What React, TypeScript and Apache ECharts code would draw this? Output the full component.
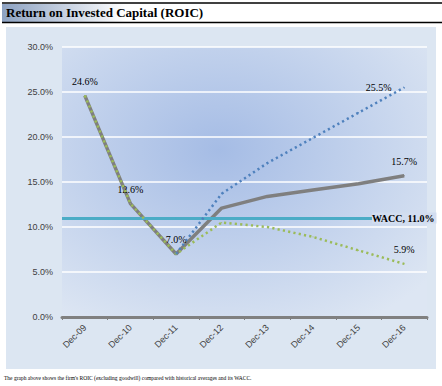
import React, { useEffect, useRef } from "react";
import * as echarts from "echarts";

const categories = ["Dec-09", "Dec-10", "Dec-11", "Dec-12", "Dec-13", "Dec-14", "Dec-15", "Dec-16"];
const roic = [24.6, 12.6, 7.0, 12.1, 13.4, 14.1, 14.8, 15.7];
const lowCase = [24.6, 12.6, 7.0, 10.5, 10.0, 8.9, 7.4, 5.9];
const highCase = [null, null, 7.0, 13.7, 17.1, 19.9, 22.7, 25.5];
const wacc = [11.0, 11.0, 11.0, 11.0, 11.0, 11.0, 11.0, 11.0];
const yTicks = [0, 5, 10, 15, 20, 25, 30];
const roicLabelIdx = [0, 1, 2, 7];
const lowLabelIdx = [7];
const highLabelIdx = [7];
const waccLabelIdx = [7];

const title = "Return on Invested Capital (ROIC)";
const footer = "The graph above shows the firm's ROIC (excluding goodwill) compared with historical averages and its WACC.";

const SERIF = "'Liberation Serif', 'Times New Roman', serif";
const SANS = "'Liberation Sans', Arial, sans-serif";

function withLabels(values: (number | null)[], idx: number[], label: any) {
  return values.map((v, i) =>
    idx.includes(i) && v !== null ? { value: v, label: { show: true, ...label } } : v
  );
}

export default function App() {
  const ref = useRef<HTMLDivElement>(null);
  useEffect(() => {
    document.body.style.margin = "0";
    const chart = echarts.init(ref.current!, null, { renderer: "svg" });
    const labelStyle = {
      fontFamily: SERIF,
      fontSize: 10,
      color: "#000",
      opacity: 1,
      formatter: (p: any) => Number(p.value).toFixed(1) + "%",
    };
    const sym = (color: string) => ({
      symbol: "circle",
      symbolSize: 1,
      showSymbol: true,
      showAllSymbol: true,
      itemStyle: { color },
      labelLayout: { hideOverlap: false },
    });
    chart.setOption({
      animation: false,
      backgroundColor: "#fff",
      graphic: [
        {
          type: "rect",
          z: -100,
          shape: { x: 2, y: 4, width: 440, height: 18 },
          style: {
            fill: new echarts.graphic.LinearGradient(0, 0, 1, 0, [
              { offset: 0, color: "#8DA2C2" },
              { offset: 0.28, color: "#ffffff" },
              { offset: 1, color: "#ffffff" },
            ]),
          },
        },
        { type: "line", shape: { x1: 2, y1: 3, x2: 442, y2: 3 }, style: { stroke: "#000", lineWidth: 1.5 } },
        { type: "line", shape: { x1: 2, y1: 22.5, x2: 442, y2: 22.5 }, style: { stroke: "#000", lineWidth: 1.5 } },
        {
          type: "text",
          x: 6,
          y: 6,
          style: { text: title, font: `bold 13px ${SERIF}`, fill: "#000" },
        },
        {
          type: "rect",
          z: -100,
          shape: { x: 6, y: 27, width: 430, height: 342 },
          style: { fill: "#DCE6F2" },
        },
        {
          type: "text",
          x: 4,
          y: 375,
          style: { text: footer, font: `5.5px ${SERIF}`, fill: "#000" },
        },
      ],
      grid: {
        left: 62,
        right: 15,
        top: 47,
        bottom: 69,
        show: true,
        borderWidth: 0,
        backgroundColor: new echarts.graphic.RadialGradient(0.43, 0.38, 0.75, [
          { offset: 0, color: "#A5BCE5" },
          { offset: 1, color: "#DDE6F3" },
        ]),
      },
      xAxis: {
        type: "category",
        data: categories,
        boundaryGap: true,
        axisLine: { lineStyle: { color: "#808080", width: 3 } },
        axisTick: { show: true, length: 3, lineStyle: { color: "#808080", width: 1 } },
        axisLabel: {
          rotate: 45,
          fontFamily: SANS,
          fontSize: 9,
          color: "#404040",
          margin: 9,
        },
        splitLine: { show: false },
      },
      yAxis: {
        type: "value",
        min: 0,
        max: 30,
        interval: 5,
        axisLine: { show: false },
        axisTick: { show: false },
        axisLabel: {
          fontFamily: SANS,
          fontSize: 9,
          color: "#404040",
          margin: 9,
          formatter: (v: number) => (yTicks.includes(v) ? v.toFixed(1) + "%" : ""),
        },
        splitLine: { lineStyle: { color: "#ffffff", width: 1.5 } },
      },
      series: [
        {
          name: "WACC",
          type: "line",
          data: withLabels(wacc, waccLabelIdx, {
            ...labelStyle,
            position: "inside",
            fontWeight: "bold",
            backgroundColor: "#D2DDF0",
            padding: [1, 2, 0, 0],
            formatter: (p: any) => "WACC, " + Number(p.value).toFixed(1) + "%",
          }),
          ...sym("#4BACC6"),
          lineStyle: { width: 0, opacity: 0 },
          z: 6,
          markLine: {
            silent: true,
            symbol: "none",
            label: { show: false },
            lineStyle: { color: "#4BACC6", width: 3, type: "solid" },
            data: [{ yAxis: wacc[0] }],
          },
        },
        {
          name: "ROIC",
          type: "line",
          data: withLabels(roic, roicLabelIdx, { ...labelStyle, position: "top", distance: 9 }),
          ...sym("#7F7F7F"),
          lineStyle: { color: "#7F7F7F", width: 3.5 },
          z: 4,
        },
        {
          name: "Low",
          type: "line",
          data: withLabels(lowCase, lowLabelIdx, { ...labelStyle, position: "top", distance: 9 }),
          ...sym("#9BBB59"),
          lineStyle: { color: "#9BBB59", width: 2.5, type: [2.2, 3.2] },
          z: 5,
        },
        {
          name: "High",
          type: "line",
          data: withLabels(highCase, highLabelIdx, { ...labelStyle, position: "left", distance: 12 }),
          ...sym("#4F81BD"),
          connectNulls: false,
          lineStyle: { color: "#4F81BD", width: 2.5, type: [2.2, 3.2] },
          z: 5,
        },
      ],
    });
    return () => chart.dispose();
  }, []);
  return <div ref={ref} style={{ width: 442, height: 386 }} />;
}
